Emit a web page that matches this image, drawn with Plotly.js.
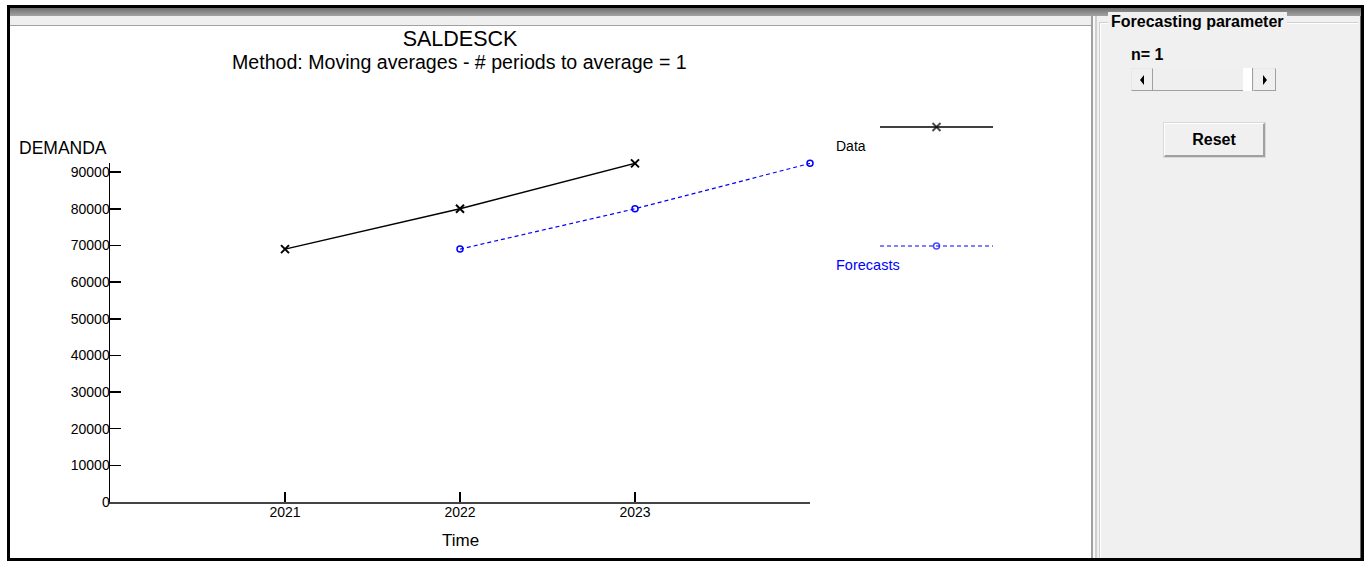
<!DOCTYPE html>
<html>
<head>
<meta charset="utf-8">
<script src="https://cdn.plot.ly/plotly-3.0.1.min.js"></script>
<style>
  html, body { margin: 0; padding: 0; background: #ffffff; width: 1368px; height: 561px; overflow: hidden; }
  .abs { position: absolute; box-sizing: border-box; }
  #frame { left: 7px; top: 5px; width: 1357px; height: 556px; border: 3px solid #000; }
  #topband { left: 10px; top: 8px; width: 1351px; height: 8px; background: linear-gradient(#6f6f6f, #a3a3a3); }
  #lightband { left: 10px; top: 16px; width: 1081px; height: 9px; background: #efefef; }
  #whiteline { left: 10px; top: 25px; width: 1081px; height: 1px; background: #a0a0a0; }
  #white { left: 10px; top: 26px; width: 1081px; height: 532px; background: #ffffff; }
  #panel { left: 1091px; top: 16px; width: 270px; height: 542px; background: #f0f0f0;
           border-left: 2px solid #a0a0a0; border-right: 1px solid #6a6a6a; }
  #panelinner { left: 1093px; top: 16px; width: 4px; height: 542px; background: #f8f8f8; border-right: 2px solid #cfcfcf; }
  #group { left: 1099px; top: 22px; width: 259px; height: 545px; border: 1px solid #d0d0d0; border-bottom: none; border-right: none;
           box-shadow: inset 1px 1px 0 #ffffff; }
  #grouptitle { left: 1108px; top: 12px; padding: 0 3px; background: #f0f0f0; font: bold 16px "Liberation Sans", Arial, sans-serif; color: #000; line-height: 20px; }
  #nlabel { left: 1131px; top: 45px; font: bold 16px "Liberation Sans", Arial, sans-serif; color: #000; line-height: 20px; }
  #scroll { left: 1131px; top: 68px; width: 145px; height: 23px; background: #efefef; border-bottom: 1px solid #a0a0a0; }
  .sbtn { top: 68px; height: 23px; background: #f0f0f0; border: 1px solid #e8e8e8; border-right: 1px solid #a0a0a0; border-bottom: 1px solid #a0a0a0; }
  #btnL { left: 1131px; width: 22px; }
  #btnR { left: 1253px; width: 23px; }
  #thumb { left: 1243px; top: 68px; width: 10px; height: 23px; background: #ffffff; border-right: 1px solid #a0a0a0; }
  .arrow { width: 0; height: 0; position: absolute; top: 6px; border-top: 5px solid transparent; border-bottom: 5px solid transparent; }
  #btnL .arrow { left: 8px; border-right: 4px solid #000; }
  #btnR .arrow { left: 9px; border-left: 4px solid #000; }
  #reset { left: 1164px; top: 123px; width: 101px; height: 34px; background: #f0f0f0;
           border: 1px solid #ffffff; border-right: 2px solid #a0a0a0; border-bottom: 2px solid #a0a0a0; outline: 1px solid #d8d8d8;
           font: bold 16px "Liberation Sans", Arial, sans-serif; color: #000; text-align: center; line-height: 31px; }
  #chart { left: 0; top: 0; width: 1368px; height: 561px; }
</style>
</head>
<body>
<div class="abs" id="white"></div>
<div class="abs" id="topband"></div>
<div class="abs" id="lightband"></div>
<div class="abs" id="whiteline"></div>
<div class="abs" id="panel"></div>
<div class="abs" id="panelinner"></div>
<div class="abs" id="group"></div>
<div class="abs" id="grouptitle">Forecasting parameter</div>
<div class="abs" id="nlabel">n= 1</div>
<div class="abs" id="scroll"></div>
<div class="abs sbtn" id="btnL"><div class="arrow"></div></div>
<div class="abs" id="thumb"></div>
<div class="abs sbtn" id="btnR"><div class="arrow"></div></div>
<div class="abs" id="reset">Reset</div>
<div class="abs" id="chart"></div>
<div class="abs" id="frame"></div>
<script>
// ---- data ----
const dataYears = [2021, 2022, 2023];
const dataValues = [69000, 80000, 92400];
const forecastYears = [2022, 2023, 2024];
const forecastValues = [69000, 80000, 92400];
const xTickVals = [2021, 2022, 2023, 2024];
const xTickText = ['2021', '2022', '2023', ''];
const yTickVals = [0, 10000, 20000, 30000, 40000, 50000, 60000, 70000, 80000, 90000];
const yTickText = ['0', '10000', '20000', '30000', '40000', '50000', '60000', '70000', '80000', '90000'];
const titleText = 'SALDESCK';
const subtitleText = 'Method: Moving averages - # periods to average = 1';
const yLabel = 'DEMANDA';
const xLabel = 'Time';
const legendNames = ['Data', 'Forecasts'];

// ---- geometry helpers (pixel -> paper) ----
const L = 110, R = 993, T = 100, B = 502;
const W = R - L, H = B - T;
const px = p => (p - L) / W;
const py = q => (B - q) / H;

const FONT = '"Liberation Sans", Arial, sans-serif';

const traces = [
  { x: dataYears, y: dataValues, type: 'scatter', mode: 'lines+markers', xaxis: 'x', yaxis: 'y', cliponaxis: false,
    line: { color: '#000000', width: 1.5 },
    marker: { symbol: 'x-thin-open', size: 8, color: '#000000', line: { color: '#000000', width: 2 } },
    name: legendNames[0], showlegend: false, hoverinfo: 'skip' },
  { x: forecastYears, y: forecastValues, type: 'scatter', mode: 'lines+markers', xaxis: 'x', yaxis: 'y', cliponaxis: false,
    line: { color: '#0000ff', width: 1.2, dash: '4px,3px' },
    marker: { symbol: 'circle-open', size: 6, color: '#0000ff', line: { color: '#0000ff', width: 1.5 } },
    name: legendNames[1], showlegend: false, hoverinfo: 'skip' },
  // legend samples
  { x: [0, 0.5, 1], y: [1, 1, 1], type: 'scatter', mode: 'lines+markers', xaxis: 'x2', yaxis: 'y2', cliponaxis: false,
    line: { color: '#000000', width: 1.5 },
    marker: { symbol: 'x-thin-open', size: [0, 8, 0], color: '#000000', line: { color: '#000000', width: 2 } },
    showlegend: false, hoverinfo: 'skip' },
  { x: [0, 0.5, 1], y: [0, 0, 0], type: 'scatter', mode: 'lines+markers', xaxis: 'x2', yaxis: 'y2', cliponaxis: false,
    line: { color: '#0000ff', width: 1.2, dash: '4px,3px' },
    marker: { symbol: 'circle-open', size: [0, 6, 0], color: '#0000ff', line: { color: '#0000ff', width: 1.5 } },
    showlegend: false, hoverinfo: 'skip' }
];

const layout = {
  width: 1368, height: 561,
  margin: { l: L, r: 1368 - R, t: T, b: 561 - B, pad: 0 },
  paper_bgcolor: 'rgba(0,0,0,0)', plot_bgcolor: 'rgba(0,0,0,0)',
  font: { family: FONT, color: '#000000' },
  showlegend: false,
  title: { text: titleText, font: { family: FONT, size: 21.5, color: '#000000' },
           xref: 'container', yref: 'container', x: 460 / 1368, xanchor: 'center', y: 1 - 38 / 561, yanchor: 'middle' },
  xaxis: { domain: [0, (810 - L) / W], range: [2020, 2024], showgrid: false, zeroline: false,
           showline: true, linecolor: '#444444', linewidth: 2, ticks: 'inside', ticklen: 10, tickwidth: 1.5, tickcolor: '#000000',
           tickmode: 'array', tickvals: xTickVals, ticktext: xTickText, tickfont: { size: 14, color: '#000000' },
           ticklabelstandoff: -4, anchor: 'y', fixedrange: true },
  yaxis: { domain: [0, (B - 163) / H], range: [0, 92500], showgrid: false, zeroline: false,
           showline: true, linecolor: '#000000', linewidth: 1.5, ticks: 'inside', ticklen: 11, tickwidth: 1.5, tickcolor: '#000000',
           tickmode: 'array', tickvals: yTickVals, ticktext: yTickText, tickfont: { size: 14, color: '#000000' },
           ticklabelstandoff: -4, anchor: 'x', fixedrange: true },
  xaxis2: { domain: [px(880), 1], range: [0, 1], visible: false, anchor: 'y2', fixedrange: true },
  yaxis2: { domain: [py(269.8), py(103.2)], range: [-0.2, 1.2], visible: false, anchor: 'x2', fixedrange: true },
  annotations: [
    { text: subtitleText, xref: 'paper', yref: 'paper', x: px(459), y: py(62), xanchor: 'center', yanchor: 'middle',
      showarrow: false, font: { family: FONT, size: 19.6, color: '#000000' } },
    { text: yLabel, xref: 'paper', yref: 'paper', x: px(109), y: py(148), xanchor: 'right', yanchor: 'middle',
      showarrow: false, font: { family: FONT, size: 17.5, color: '#000000' } },
    { text: xLabel, xref: 'paper', yref: 'paper', x: px(460), y: py(540), xanchor: 'center', yanchor: 'middle',
      showarrow: false, font: { family: FONT, size: 17, color: '#000000' } },
    { text: legendNames[0], xref: 'paper', yref: 'paper', x: px(834), y: py(146), xanchor: 'left', yanchor: 'middle',
      showarrow: false, font: { family: FONT, size: 14, color: '#000000' } },
    { text: legendNames[1], xref: 'paper', yref: 'paper', x: px(834), y: py(265), xanchor: 'left', yanchor: 'middle',
      showarrow: false, font: { family: FONT, size: 14.5, color: '#0000ff' } }
  ]
};

Plotly.newPlot('chart', traces, layout, { staticPlot: true, displayModeBar: false });
</script>
</body>
</html>
